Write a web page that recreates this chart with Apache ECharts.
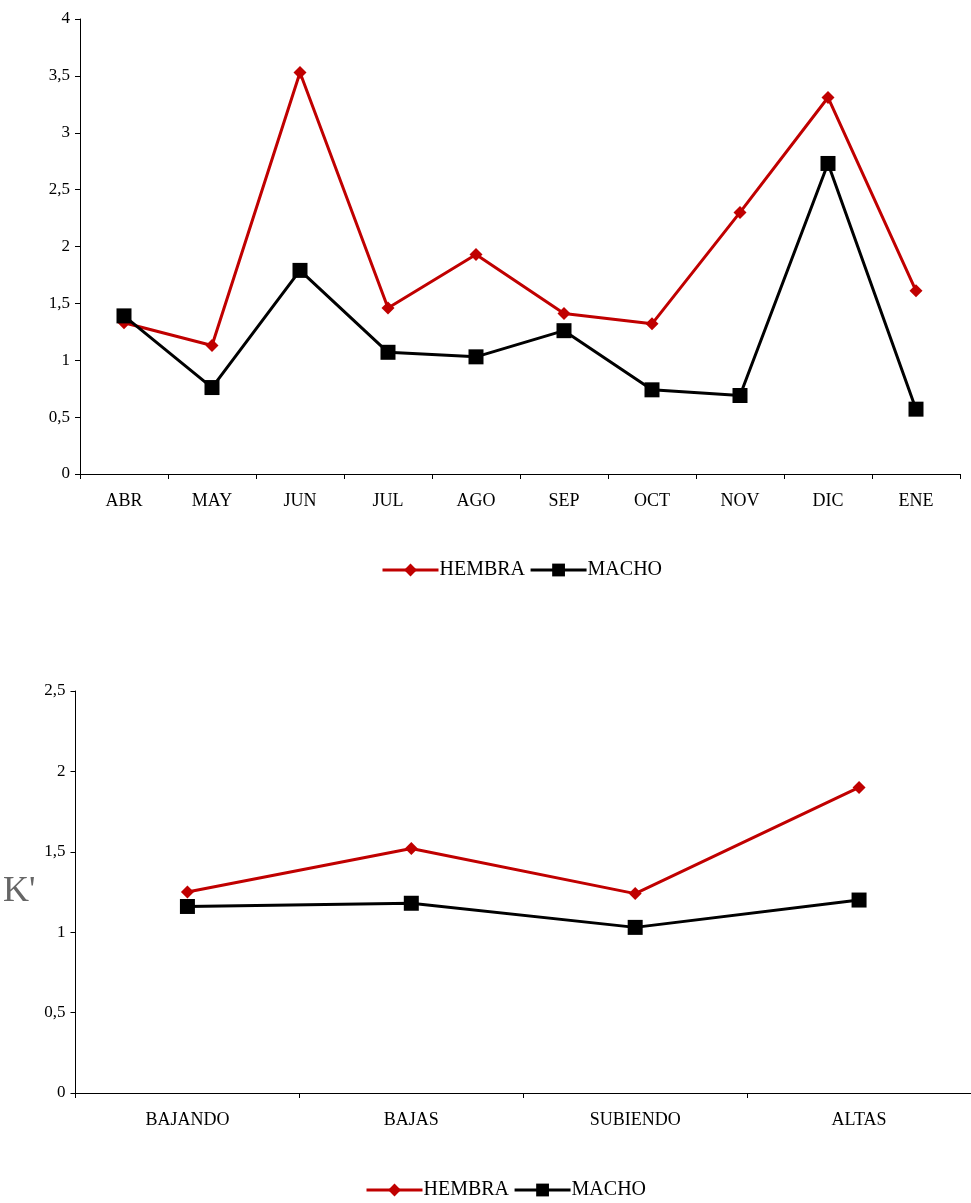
<!DOCTYPE html>
<html><head><meta charset="utf-8">
<script src="https://cdn.jsdelivr.net/npm/echarts@6/dist/echarts.min.js"></script>
<style>body{margin:0;background:#fff}#c{width:971px;height:1203px}</style>
</head><body><div id="c"></div>
<script>
// datos
const meses = ["ABR","MAY","JUN","JUL","AGO","SEP","OCT","NOV","DIC","ENE"]
const hembraMes = [1.33,1.13,3.53,1.46,1.93,1.41,1.32,2.30,3.31,1.61]
const machoMes = [1.39,0.76,1.79,1.07,1.03,1.26,0.74,0.69,2.73,0.57]
const mareas = ["BAJANDO","BAJAS","SUBIENDO","ALTAS"]
const hembraMarea = [1.25,1.52,1.24,1.90]
const machoMarea = [1.16,1.18,1.03,1.20]

const font = "Liberation Serif"
const RED = "#c00000", BLACK = "#000"

function xAxis(idx, data){
  return {
    type: "category", gridIndex: idx, data: data, boundaryGap: true,
    axisLine: {lineStyle: {color: "#000"}},
    axisTick: {show: true, inside: false, length: 5, lineStyle: {color: "#000"}},
    axisLabel: {color: "#000", fontFamily: font, fontSize: 18, margin: 18}
  }
}
function yAxis(idx, max, extra){
  return Object.assign({
    type: "value", gridIndex: idx, min: 0, max: max, interval: 0.5,
    axisLine: {show: true, lineStyle: {color: "#000"}},
    axisTick: {show: true, length: 5, lineStyle: {color: "#000"}},
    splitLine: {show: false},
    axisLabel: {color: "#000", fontFamily: font, fontSize: 17, margin: 10,
      formatter: v => String(v).replace(".", ",")}
  }, extra || {})
}
function serie(name, data, idx, color, symbol, size){
  return {
    name: name, type: "line", xAxisIndex: idx, yAxisIndex: idx, data: data,
    symbol: symbol, symbolSize: size, lineStyle: {color: color, width: 3},
    itemStyle: {color: color}, animation: false
  }
}
const legendBase = {
  itemWidth: 56, itemHeight: 16, itemGap: 4,
  lineStyle: {width: 3},
  textStyle: {fontFamily: font, fontSize: 20, color: "#000", padding: [0, 0, 0, -4]}
}

const chart = echarts.init(document.getElementById("c"))
chart.setOption({
  animation: false,
  grid: [
    {left: 80, top: 19, width: 880, height: 455},
    {left: 73, top: 691, width: 908, height: 402}
  ],
  xAxis: [xAxis(0, meses), xAxis(1, mareas)],
  yAxis: [
    yAxis(0, 4),
    yAxis(1, 2.5, {name: "K'", nameLocation: "middle", nameRotate: 0, nameGap: 40,
      nameTextStyle: {color: "#666", fontFamily: font, fontSize: 36}})
  ],
  legend: [
    Object.assign({top: 555, left: 376, data: ["HEMBRA","MACHO"]}, legendBase),
    Object.assign({top: 1175, left: 360, data: ["HEMBRA ","MACHO "], formatter: n => n.trim()}, legendBase)
  ],
  series: [
    serie("HEMBRA", hembraMes, 0, RED, "diamond", 13),
    serie("MACHO", machoMes, 0, BLACK, "rect", 15),
    serie("HEMBRA ", hembraMarea, 1, RED, "diamond", 13),
    serie("MACHO ", machoMarea, 1, BLACK, "rect", 15)
  ]
})
</script></body></html>
